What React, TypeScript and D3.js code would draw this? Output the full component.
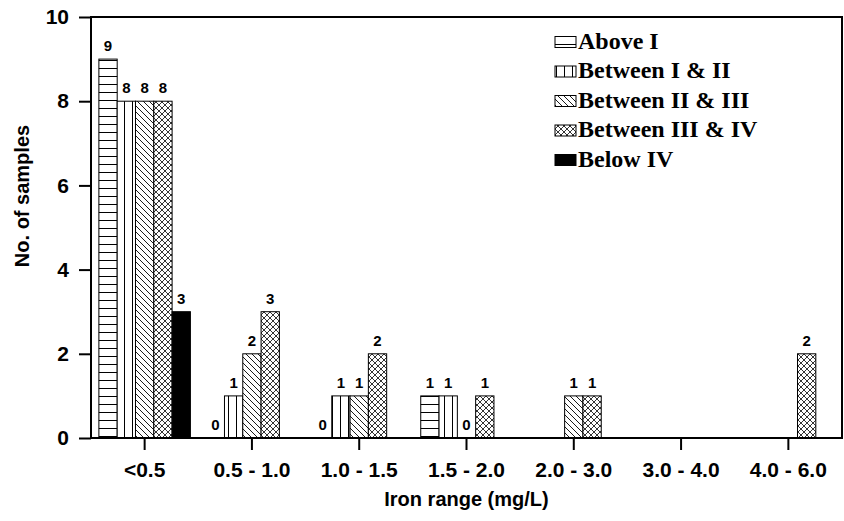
import React, { useRef, useEffect } from "react";
import * as d3 from "d3";

const categories = ["<0.5", "0.5 - 1.0", "1.0 - 1.5", "1.5 - 2.0", "2.0 - 3.0", "3.0 - 4.0", "4.0 - 6.0"];
const seriesNames = ["Above I", "Between I & II", "Between II & III", "Between III & IV", "Below IV"];
const aboveI = [9, 0, 0, 1, null, null, null];
const betweenIandII = [8, 1, 1, 1, null, null, null];
const betweenIIandIII = [8, 2, 1, 0, 1, null, null];
const betweenIIIandIV = [8, 3, 2, 1, 1, null, 2];
const belowIV = [3, null, null, null, null, null, null];
const yTicks = [0, 2, 4, 6, 8, 10];

const W = 844;
const H = 521;
const fills = ["url(#p-h)", "url(#p-v)", "url(#p-d)", "url(#p-x)", "#000"];
const sans = "'Liberation Sans', Arial, Helvetica, sans-serif";

const App = () => {
  const svgRef = useRef(null);

  useEffect(() => {
    const svg = d3.select(svgRef.current);
    svg.selectAll("*").remove();

    const margin = { top: 17, right: 2, bottom: 83, left: 91 };
    const series = [aboveI, betweenIandII, betweenIIandIII, betweenIIIandIV, belowIV];

    // Hatch patterns
    const defs = svg.append("defs");
    const pat = (id, size) => {
      const p = defs
        .append("pattern")
        .attr("id", id)
        .attr("patternUnits", "userSpaceOnUse")
        .attr("width", size)
        .attr("height", size);
      p.append("rect").attr("width", size).attr("height", size).attr("fill", "#fff");
      return p;
    };
    pat("p-h", 8)
      .append("line")
      .attr("x1", 0).attr("x2", 8).attr("y1", 4.5).attr("y2", 4.5)
      .attr("stroke", "#000").attr("stroke-width", 1);
    pat("p-v", 8)
      .append("line")
      .attr("x1", 4.5).attr("x2", 4.5).attr("y1", 0).attr("y2", 8)
      .attr("stroke", "#000").attr("stroke-width", 1);
    pat("p-d", 6)
      .append("path")
      .attr("d", "M0,0L6,6M-1,5L1,7M5,-1L7,1")
      .attr("stroke", "#000").attr("stroke-width", 0.9);
    pat("p-x", 6)
      .append("path")
      .attr("d", "M0,0L6,6M-1,5L1,7M5,-1L7,1M6,0L0,6M-1,1L1,-1M5,7L7,5")
      .attr("stroke", "#000").attr("stroke-width", 0.8);

    const x = d3
      .scaleBand()
      .domain(categories)
      .range([margin.left, W - margin.right])
      .paddingInner(0.147)
      .paddingOuter(0.0735);
    const x1 = d3.scaleBand().domain(seriesNames).range([0, x.bandwidth()]);
    const y = d3.scaleLinear().domain([0, 10]).range([H - margin.bottom, margin.top]);

    // Bars
    series.forEach((vals, si) => {
      const g = svg.append("g");
      categories.forEach((c, ci) => {
        const v = vals[ci];
        if (v === null) return;
        const bx = x(c) + x1(seriesNames[si]);
        if (v > 0) {
          g.append("rect")
            .attr("x", bx)
            .attr("y", y(v))
            .attr("width", x1.bandwidth())
            .attr("height", y(0) - y(v))
            .attr("fill", fills[si])
            .attr("stroke", "#000")
            .attr("stroke-width", 1);
        }
        g.append("text")
          .attr("x", bx + x1.bandwidth() / 2)
          .attr("y", y(v) - 8)
          .attr("text-anchor", "middle")
          .style("font", `bold 15px ${sans}`)
          .text(v);
      });
    });

    // Frame
    svg.append("rect")
      .attr("x", margin.left)
      .attr("y", margin.top)
      .attr("width", W - margin.right - margin.left)
      .attr("height", y(0) - margin.top)
      .attr("fill", "none")
      .attr("stroke", "#000")
      .attr("stroke-width", 2);

    // Y axis
    const yAxis = svg.append("g").attr("transform", `translate(${margin.left},0)`);
    yAxis.call(
      d3.axisLeft(y).tickValues(d3.range(0, 10.01, 0.5)).tickSize(6).tickFormat(() => "")
    );
    yAxis.call(d3.axisLeft(y).tickValues(yTicks).tickSize(12).tickPadding(10));
    yAxis.selectAll(".domain").remove();
    yAxis.selectAll("line").attr("stroke", "#000").attr("stroke-width", 2);
    yAxis.selectAll("text").style("font", `bold 21px ${sans}`).attr("fill", "#000");

    // X axis
    const xAxis = svg.append("g").attr("transform", `translate(0,${y(0)})`);
    xAxis.call(d3.axisBottom(x).tickSize(12).tickPadding(12));
    xAxis.selectAll(".domain").remove();
    xAxis.selectAll("line").attr("stroke", "#000").attr("stroke-width", 2);
    xAxis.selectAll("text").style("font", `bold 21px ${sans}`).attr("fill", "#000");

    // Axis titles
    svg.append("text")
      .attr("x", (margin.left + W - margin.right) / 2)
      .attr("y", 506)
      .attr("text-anchor", "middle")
      .style("font", `bold 20px ${sans}`)
      .text("Iron range (mg/L)");
    svg.append("text")
      .attr("transform", "translate(29,196) rotate(-90)")
      .attr("text-anchor", "middle")
      .style("font", `bold 20px ${sans}`)
      .text("No. of samples");

    // Legend
    const ly = d3.scalePoint().domain(seriesNames).range([48.5, 166.5]);
    const leg = svg.append("g");
    seriesNames.forEach((n, i) => {
      leg.append("rect")
        .attr("x", 555)
        .attr("y", ly(n) - 12)
        .attr("width", 21)
        .attr("height", 11)
        .attr("fill", fills[i])
        .attr("stroke", "#000")
        .attr("stroke-width", 1);
      leg.append("text")
        .attr("x", 578)
        .attr("y", ly(n))
        .style("font", "bold 24px 'Liberation Serif', 'Times New Roman', serif")
        .text(n);
    });
  }, []);

  return (
    <svg
      ref={svgRef}
      width={W}
      height={H}
      style={{ position: "absolute", left: 0, top: 0, background: "#fff" }}
    />
  );
};

export default App;
